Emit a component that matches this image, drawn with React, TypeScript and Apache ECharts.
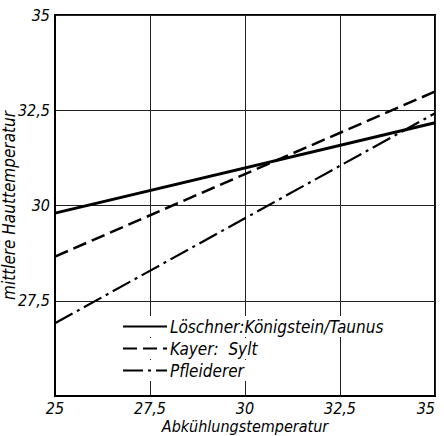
import React, { useEffect, useRef } from "react";
import * as echarts from "echarts";

const xTemps = [25, 35];
const loeschner = [29.8, 32.17];
const kayer = [28.66, 32.99];
const pfleiderer = [26.91, 32.42];
const seriesNames = ["Löschner:Königstein/Taunus", "Kayer:  Sylt", "Pfleiderer"];
const xName = "Abkühlungstemperatur";
const yName = "mittlere Hauttemperatur";

const FONT = "DejaVu Sans Condensed";

export default function App() {
  const ref = useRef<HTMLDivElement>(null);
  useEffect(() => {
    if (!ref.current) return;
    const chart = echarts.init(ref.current, undefined, { renderer: "svg" });
    const fmt = (v: number) => String(v).replace(".", ",");
    const txt = { fontFamily: FONT, fontStyle: "italic" as const, fontSize: 17, color: "#000" };
    const mk = (vals: number[]) => xTemps.map((x, i) => [x, vals[i]]);
    const legendBase = {
      orient: "horizontal" as const,
      left: 118,
      itemWidth: 44,
      itemHeight: 14,
      itemGap: 4,
      padding: [2, 4, 2, 4],
      backgroundColor: "#fff",
      textStyle: { ...txt, padding: [0, 0, 0, -2] },
      itemStyle: { color: "transparent", borderColor: "transparent", borderWidth: 0 },
      z: 10,
    };
    chart.setOption({
      animation: false,
      backgroundColor: "#fff",
      grid: {
        left: 55, right: 9, top: 15, bottom: 40,
        outerBoundsMode: "none",
        containLabel: false,
        show: true, borderColor: "#000", borderWidth: 2, backgroundColor: "transparent",
      },
      legend: [
        { ...legendBase, top: 316, data: [seriesNames[0]] },
        { ...legendBase, top: 338, data: [seriesNames[1]] },
        { ...legendBase, top: 360, data: [seriesNames[2]] },
      ],
      xAxis: {
        type: "value",
        min: 25,
        max: 35,
        interval: 2.5,
        name: xName,
        nameLocation: "middle",
        nameGap: 22,
        nameMoveOverlap: false,
        nameTextStyle: { ...txt, fontSize: 16, lineHeight: 16 },
        axisLine: { lineStyle: { color: "#000", width: 2 } },
        axisTick: { show: false },
        axisLabel: { ...txt, fontSize: 16, lineHeight: 16, margin: 4, formatter: fmt, alignMaxLabel: "right" },
        splitLine: { show: true, lineStyle: { color: "#222", width: 1 } },
      },
      yAxis: {
        type: "value",
        min: 25,
        max: 35,
        interval: 2.5,
        name: yName,
        nameLocation: "middle",
        nameGap: 38,
        nameMoveOverlap: false,
        nameTextStyle: txt,
        axisLine: { show: true, lineStyle: { color: "#000", width: 2 } },
        axisTick: { show: false },
        axisLabel: { ...txt, fontSize: 16, margin: 5, formatter: (v: number) => (v === 25 ? "" : fmt(v)) },
        splitLine: { show: true, lineStyle: { color: "#222", width: 1 } },
      },
      series: [
        {
          name: seriesNames[0],
          type: "line",
          data: mk(loeschner),
          symbol: "none",
          lineStyle: { color: "#000", width: 3, type: "solid" },
          itemStyle: { color: "#000" },
        },
        {
          name: seriesNames[1],
          type: "line",
          data: mk(kayer),
          symbol: "none",
          lineStyle: { color: "#000", width: 2.5, type: [14, 6] },
          itemStyle: { color: "#000" },
        },
        {
          name: seriesNames[2],
          type: "line",
          data: mk(pfleiderer),
          symbol: "none",
          lineStyle: { color: "#000", width: 2.2, type: [20, 5, 3, 5] },
          itemStyle: { color: "#000" },
        },
      ],
    });
    return () => chart.dispose();
  }, []);
  return <div ref={ref} style={{ position: "fixed", left: 0, top: 0, width: 444, height: 436 }} />;
}
